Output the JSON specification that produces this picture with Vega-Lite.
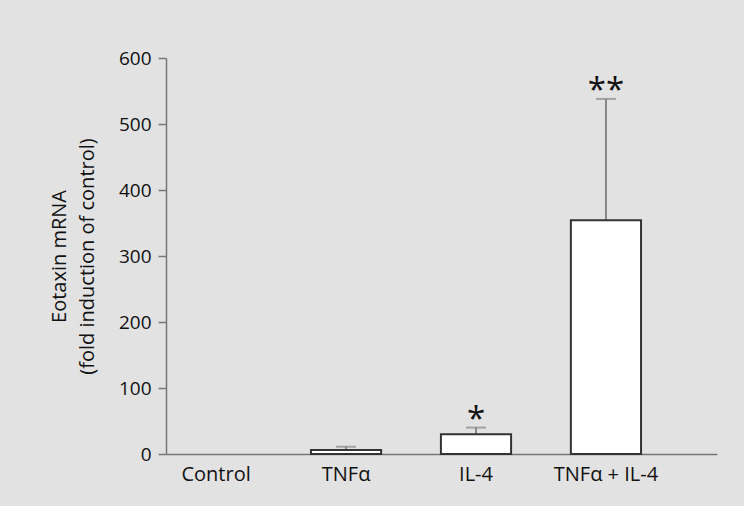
{
  "$schema": "https://vega.github.io/schema/vega-lite/v6.json",
  "autosize": "none",
  "width": 551,
  "height": 396,
  "padding": {"left": 166, "top": 58, "right": 27, "bottom": 52},
  "background": "#e2e2e2",
  "config": {
    "view": {"stroke": null},
    "font": "Open Sans",
    "axis": {
      "labelFontSize": 19,
      "labelColor": "#111",
      "titleFontSize": 20,
      "titleFontWeight": "normal",
      "titleColor": "#111",
      "domainColor": "#777",
      "domainWidth": 1.5,
      "tickColor": "#777",
      "tickWidth": 1.5,
      "grid": false
    },
    "axisX": {"labelAngle": 0, "labelPadding": 10, "ticks": false, "title": null, "labelFontSize": 20},
    "axisY": {"labelPadding": 7, "tickSize": 8, "titlePadding": 21, "titleLineHeight": 28}
  },
  "data": {
    "values": [
      {"group": "Control", "value": 0, "upper": null, "sig": ""},
      {"group": "TNFα", "value": 6, "upper": 11, "sig": ""},
      {"group": "IL-4", "value": 30, "upper": 40, "sig": "*"},
      {"group": "TNFα + IL-4", "value": 354, "upper": 538, "sig": "**"}
    ]
  },
  "encoding": {
    "x": {
      "field": "group",
      "type": "nominal",
      "sort": ["Control", "TNFα", "IL-4", "TNFα + IL-4"],
      "scale": {"domain": ["Control", "TNFα", "IL-4", "TNFα + IL-4"], "paddingInner": 0.46, "paddingOuter": 0.35, "align": 0.165},
      "title": null
    }
  },
  "layer": [
    {
      "transform": [{"filter": "datum.upper != null"}],
      "mark": {"type": "rule", "color": "#888", "strokeWidth": 2},
      "encoding": {
        "y": {"field": "value", "type": "quantitative", "scale": {"domain": [0, 600], "nice": false},
          "title": ["Eotaxin mRNA", "(fold induction of control)"],
          "axis": {"values": [0, 100, 200, 300, 400, 500, 600]}},
        "y2": {"field": "upper"}
      }
    },
    {
      "transform": [{"filter": "datum.upper != null"}],
      "mark": {"type": "tick", "color": "#888", "size": 20, "thickness": 2},
      "encoding": {
        "y": {"field": "upper", "type": "quantitative"}
      }
    },
    {
      "transform": [{"filter": "datum.value > 0"}],
      "mark": {"type": "bar", "fill": "white", "stroke": "#333", "strokeWidth": 2},
      "encoding": {
        "y": {"field": "value", "type": "quantitative"}
      }
    },
    {
      "transform": [{"filter": "datum.upper != null"}],
      "mark": {"type": "text", "fontSize": 33, "baseline": "alphabetic", "dy": 2, "color": "#111"},
      "encoding": {
        "y": {"field": "upper", "type": "quantitative"},
        "text": {"field": "sig"}
      }
    }
  ]
}
